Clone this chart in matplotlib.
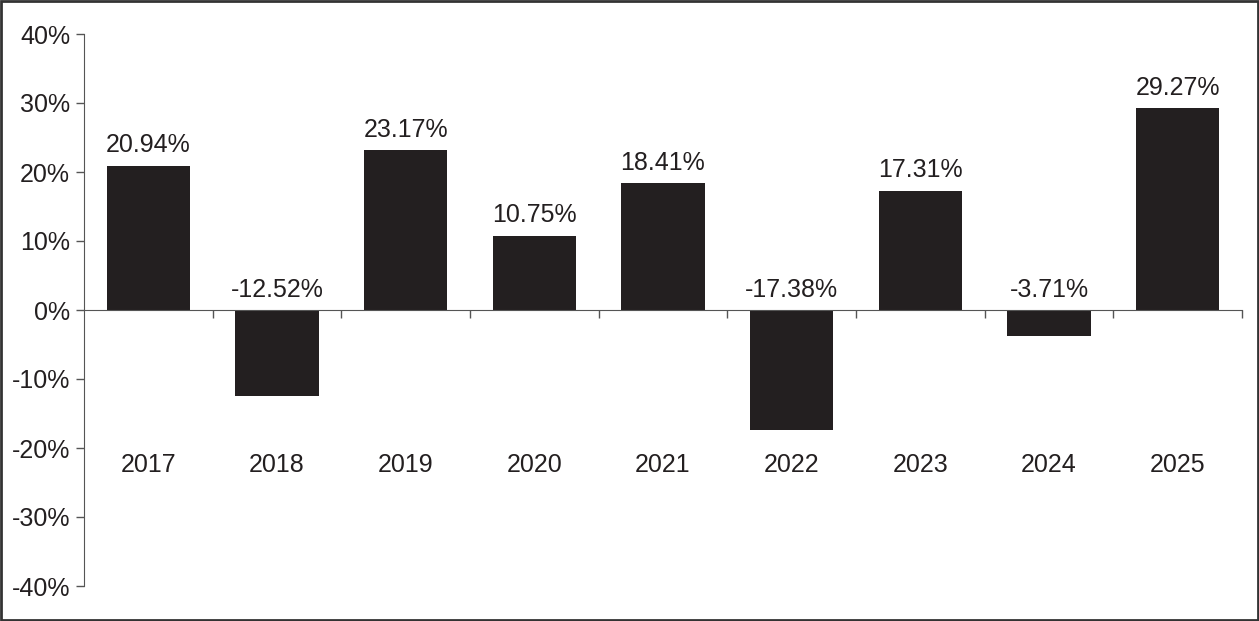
import matplotlib.pyplot as plt
from matplotlib.patches import Rectangle

years = ['2017', '2018', '2019', '2020', '2021', '2022', '2023', '2024', '2025']
returns = [20.94, -12.52, 23.17, 10.75, 18.41, -17.38, 17.31, -3.71, 29.27]
yticks = [40, 30, 20, 10, 0, -10, -20, -30, -40]

ink = '#231f20'
fs = 18
plt.rcParams['font.family'] = ['Liberation Sans', 'DejaVu Sans']

fig = plt.figure(figsize=(12.59, 6.21), dpi=100)
ax = fig.add_axes([84 / 1259, 1 - 586 / 621, (1242 - 84) / 1259, (586 - 34) / 621])

x = range(len(years))
ax.bar(x, returns, width=0.65, color=ink, zorder=2)

for i, v in enumerate(returns):
    ax.annotate(f'{v:.2f}%', (i, max(v, 0)), xytext=(0, 6), textcoords='offset points',
                ha='center', va='bottom', fontsize=fs, color=ink)
    # year labels sit at a fixed height below the zero line
    ax.text(i, -22.4, years[i], ha='center', va='center', fontsize=fs, color=ink)

ax.set_xlim(-0.5, len(years) - 0.5)
ax.set_ylim(-40, 40)
ax.set_yticks(yticks)
ax.set_yticklabels([f'{t}%' for t in yticks], fontsize=fs, color=ink)
ax.tick_params(axis='y', length=6, width=1, color='#555555', pad=4)

# category separators on the zero line
ax.set_xticks([i + 0.5 for i in range(len(years))])
ax.set_xticklabels([])
ax.tick_params(axis='x', length=6, width=1, color='#555555', direction='out')
ax.spines['bottom'].set_position(('data', 0))
ax.spines['bottom'].set_color('#555555')
ax.spines['left'].set_color('#555555')
ax.spines['top'].set_visible(False)
ax.spines['right'].set_visible(False)

fig.patches.append(Rectangle((0.001, 0.002), 0.998, 0.996, transform=fig.transFigure,
                             fill=False, edgecolor='#333333', linewidth=2))

fig.savefig('out.png', dpi=100)
